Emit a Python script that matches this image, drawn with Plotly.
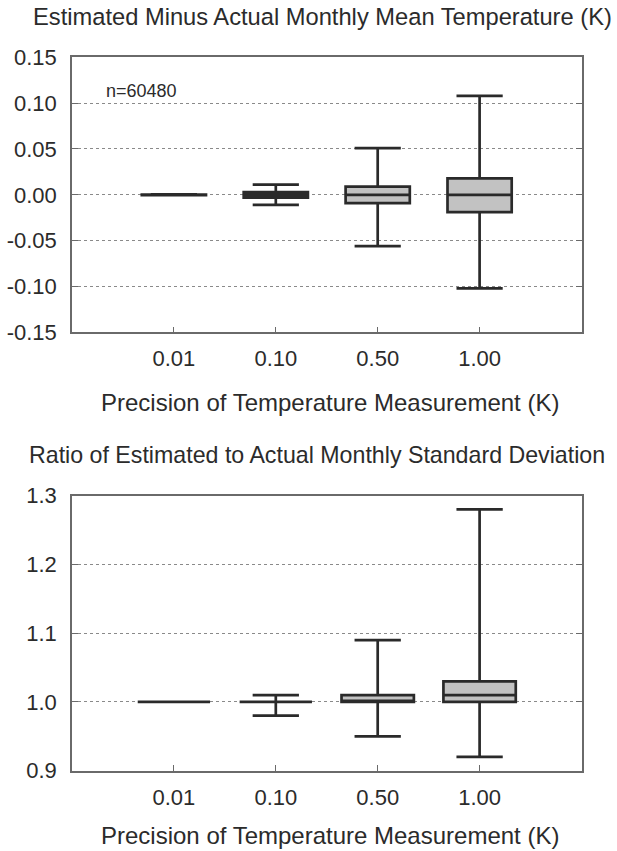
import plotly.graph_objects as go

# ---- data ----
precision_labels = ["0.01", "0.10", "0.50", "1.00"]

# Top panel: Estimated minus actual monthly mean temperature (K)
mean_lower = [-0.0005, -0.011, -0.056, -0.102]
mean_q1 = [-0.0003, -0.003, -0.009, -0.019]
mean_median = [0.0, 0.0, 0.0, 0.0]
mean_q3 = [0.0003, 0.003, 0.009, 0.018]
mean_upper = [0.0005, 0.011, 0.051, 0.108]

# Bottom panel: ratio of estimated to actual monthly standard deviation
sd_lower = [1.0, 0.98, 0.95, 0.92]
sd_q1 = [1.0, 1.0, 1.0, 1.0]
sd_median = [1.0, 1.0, 1.0, 1.01]
sd_q3 = [1.0, 1.0, 1.01, 1.03]
sd_upper = [1.0, 1.01, 1.09, 1.28]

top_ticks = [-0.15, -0.10, -0.05, 0.0, 0.05, 0.10, 0.15]
top_ticktext = ["-0.15", "-0.10", "-0.05", "0.00", "0.05", "0.10", "0.15"]
bot_ticks = [0.9, 1.0, 1.1, 1.2, 1.3]
bot_ticktext = ["0.9", "1.0", "1.1", "1.2", "1.3"]

top_title = "Estimated Minus Actual Monthly Mean Temperature (K)"
bot_title = "Ratio of Estimated to Actual Monthly Standard Deviation"
x_title = "Precision of Temperature Measurement (K)"
n_label = "n=60480"

# ---- style ----
W, H = 617, 851
FONT = "Liberation Sans, Arial, sans-serif"
TXT = "#2b2b2b"
FRAME = "#6a6a6a"
BOXLINE = "#2a2a2a"
BOXFILL = "#c2c2c2"

fig = go.Figure()

fig.add_trace(go.Box(
    x=precision_labels, q1=mean_q1, median=mean_median, q3=mean_q3,
    lowerfence=mean_lower, upperfence=mean_upper,
    boxpoints=False, width=0.63, whiskerwidth=0.72,
    fillcolor=BOXFILL, line=dict(color=BOXLINE, width=2.7),
    xaxis="x", yaxis="y", showlegend=False, hoverinfo="skip"))

fig.add_trace(go.Box(
    x=precision_labels, q1=sd_q1, median=sd_median, q3=sd_q3,
    lowerfence=sd_lower, upperfence=sd_upper,
    boxpoints=False, width=0.71, whiskerwidth=0.64,
    fillcolor=BOXFILL, line=dict(color=BOXLINE, width=2.7),
    xaxis="x2", yaxis="y2", showlegend=False, hoverinfo="skip"))

xdom = [72 / W, 581.5 / W]
top_dom = [1 - 332.3 / H, 1 - 57.3 / H]
bot_dom = [1 - 770.7 / H, 1 - 495.7 / H]

common_x = dict(
    type="category", categoryorder="array", categoryarray=precision_labels,
    range=[-1, 4], domain=xdom, showgrid=False, zeroline=False, automargin=False,
    showline=True, mirror=True, linecolor=FRAME, linewidth=1.5,
    ticks="inside", ticklen=6, tickcolor=FRAME, tickwidth=1,
    tickfont=dict(family=FONT, size=22, color=TXT),
    ticklabelstandoff=6,
)
common_y = dict(
    showgrid=True, gridcolor="#8a8a8a", griddash="dot", gridwidth=1,
    zeroline=False, showline=True, mirror="ticks", linecolor=FRAME, linewidth=1.5,
    ticks="inside", ticklen=6, tickcolor=FRAME, tickwidth=1, automargin=False,
    tickfont=dict(family=FONT, size=22, color=TXT),
    ticklabelstandoff=9,
)

fig.update_layout(
    width=W, height=H,
    margin=dict(l=0, r=0, t=0, b=0),
    paper_bgcolor="white", plot_bgcolor="white",
    xaxis=dict(common_x, anchor="y"),
    yaxis=dict(common_y, domain=top_dom, range=[-0.15, 0.15],
               tickvals=top_ticks, ticktext=top_ticktext, anchor="x"),
    xaxis2=dict(common_x, anchor="y2"),
    yaxis2=dict(common_y, domain=bot_dom, range=[0.9, 1.3],
                tickvals=bot_ticks, ticktext=bot_ticktext, anchor="x2"),
    showlegend=False,
)

TITLE_FONT = dict(family=FONT, size=23.7, color=TXT)
BOT_TITLE_FONT = dict(family=FONT, size=23.2, color=TXT)
AXT_FONT = dict(family=FONT, size=24, color=TXT)
fig.add_annotation(text=top_title, xref="paper", yref="paper",
                   x=31 / W, y=1 - 17 / H, xanchor="left", yanchor="middle",
                   showarrow=False, font=TITLE_FONT)
fig.add_annotation(text=bot_title, xref="paper", yref="paper",
                   x=27 / W, y=1 - 455 / H, xanchor="left", yanchor="middle",
                   showarrow=False, font=BOT_TITLE_FONT)
fig.add_annotation(text=x_title, xref="paper", yref="paper",
                   x=330 / W, y=1 - 402 / H, xanchor="center", yanchor="middle",
                   showarrow=False, font=AXT_FONT)
fig.add_annotation(text=x_title, xref="paper", yref="paper",
                   x=330 / W, y=0, xanchor="center", yanchor="bottom",
                   showarrow=False, font=AXT_FONT)
fig.add_annotation(text=n_label, xref="x domain", yref="y domain",
                   x=0.063, y=0.877, xanchor="left", yanchor="middle",
                   showarrow=False, font=dict(family=FONT, size=18, color=TXT))

fig.write_html("out.html")
